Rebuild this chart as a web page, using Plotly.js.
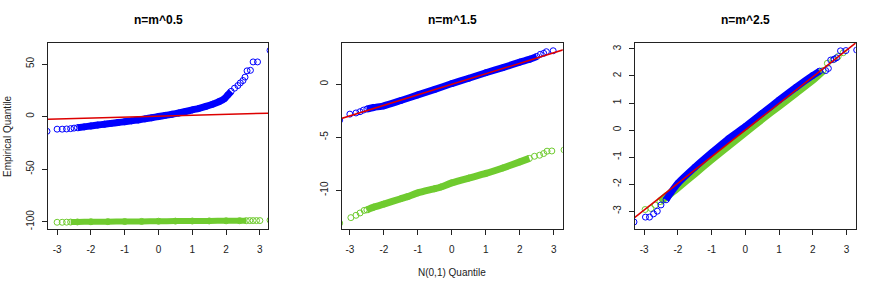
<!DOCTYPE html>
<html>
<head>
<meta charset="utf-8">
<script src="https://cdn.plot.ly/plotly-3.0.1.min.js"></script>
<style>html,body{margin:0;padding:0;background:#fff;}#chart{width:880px;height:285px;}</style>
</head>
<body>
<div id="chart"></div>
<script>
// ---- Data ----
const panelTitles = ["n=m^0.5", "n=m^1.5", "n=m^2.5"];
const xTicks = [-3, -2, -1, 0, 1, 2, 3];
const yTicks1 = [-100, -50, 0, 50];
const yTicks2 = [-10, -5, 0];
const yTicks3 = [-3, -2, -1, 0, 1, 2, 3];

// panel 1 : n = m^0.5
const blue1X = [-3.3, -3.0, -2.85, -2.72, -2.6, -2.5, -2.4, -2.2, -2.0, -1.8, -1.6, -1.4, -1.2, -1.0, -0.8, -0.6, -0.4, -0.2, 0, 0.2, 0.4, 0.6, 0.8, 1.0, 1.2, 1.4, 1.6, 1.8, 1.95, 2.05, 2.15, 2.25, 2.35, 2.42, 2.5, 2.56, 2.62, 2.72, 2.8, 2.93, 3.3];
const blue1Y = [-14, -12, -12, -11.8, -11.5, -11, -10.6, -9.8, -8.9, -8.1, -7.3, -6.5, -5.7, -4.9, -4.1, -3.2, -2.2, -1.1, 0, 1.1, 2.2, 3.4, 4.8, 6.3, 7.8, 9.6, 11.7, 14.3, 17, 20.5, 24, 27, 29.5, 32, 34.3, 37.5, 43.5, 44, 52, 52, 63];
const green1X = [-3.0, -2.85, -2.72, -2.6, -2.4, -2.0, -1.5, -1.0, -0.5, 0, 0.5, 1.0, 1.5, 2.0, 2.4, 2.6, 2.7, 2.8, 2.9, 3.0, 3.3];
const green1Y = [-100.6, -100.6, -100.5, -100.4, -100.3, -100.1, -100.0, -99.9, -99.8, -99.6, -99.5, -99.4, -99.3, -99.2, -99.1, -99.1, -99.0, -99.0, -99.0, -99.0, -98.6];
const red1X = [-3.5, 3.5];
const red1Y = [-2.85, 3.45];

// panel 2 : n = m^1.5
const blue2X = [-3.3, -3.0, -2.82, -2.7, -2.6, -2.5, -2.3, -2.0, -1.5, -1.0, -0.5, 0, 0.5, 1.0, 1.5, 2.0, 2.3, 2.5, 2.6, 2.7, 2.78, 2.98];
const blue2Y = [-3.4, -2.83, -2.72, -2.6, -2.45, -2.35, -2.2, -2.05, -1.55, -1.02, -0.5, 0.05, 0.55, 1.07, 1.55, 2.07, 2.35, 2.6, 2.8, 2.9, 3.05, 3.14];
const green2X = [-3.3, -2.97, -2.82, -2.7, -2.58, -2.5, -2.28, -2.0, -1.5, -1.3, -1.0, -0.5, -0.32, 0, 0.5, 1.0, 1.5, 2.0, 2.28, 2.43, 2.58, 2.7, 2.8, 2.94, 3.3];
const green2Y = [-13.1, -12.58, -12.36, -12.14, -11.9, -11.85, -11.57, -11.3, -10.8, -10.6, -10.25, -9.85, -9.69, -9.3, -8.85, -8.42, -7.9, -7.33, -7.0, -6.8, -6.7, -6.54, -6.32, -6.3, -6.2];
const red2X = [-3.5, 3.5];
const red2Y = [-3.49, 3.45];

// panel 3 : n = m^2.5
const blue3X = [-3.3, -2.96, -2.84, -2.72, -2.61, -2.5, -2.35, -2.2, -2.0, -1.5, -1.0, -0.5, 0, 0.5, 1.0, 1.5, 2.0, 2.2, 2.38, 2.46, 2.53, 2.63, 2.7, 2.82, 2.98, 3.3];
const blue3Y = [-3.4, -3.22, -3.22, -3.1, -3.0, -2.77, -2.58, -2.3, -1.97, -1.38, -0.84, -0.32, 0.13, 0.62, 1.11, 1.58, 2.02, 2.18, 2.2, 2.28, 2.59, 2.62, 2.67, 2.93, 2.94, 2.96];
const green3X = [-2.97, -2.8, -2.67, -2.53, -2.3, -2.0, -1.5, -1.0, -0.5, 0, 0.5, 1.0, 1.5, 2.0, 2.3, 2.43, 2.6, 2.75, 2.9];
const green3Y = [-2.94, -2.9, -2.78, -2.65, -2.42, -2.12, -1.6, -1.08, -0.58, -0.08, 0.42, 0.9, 1.38, 1.86, 2.2, 2.47, 2.6, 2.72, 2.86];
const red3X = [-3.5, 3.5];
const red3Y = [-3.45, 3.45];

// ---- Styling ----
const BLUE = "#0000FF", GREEN = "#6FCB2F", RED = "#DD0000", AX = "#222222";
const W = 880, H = 285;

function core(xs, ys, lo, hi) {
  const cx = [], cy = [];
  xs.forEach((v, i) => { if (v >= lo && v <= hi) { cx.push(v); cy.push(ys[i]); } });
  return {x: cx, y: cy};
}
function pts(xs, ys, color, ax) {
  return {x: xs, y: ys, type: "scatter", mode: "markers", xaxis: "x" + ax, yaxis: "y" + ax,
    marker: {symbol: "circle-open", size: 6, color: color, line: {width: 1, color: color}},
    hoverinfo: "skip", showlegend: false};
}
function band(xs, ys, lo, hi, color, width, ax) {
  const c = core(xs, ys, lo, hi);
  return {x: c.x, y: c.y, type: "scatter", mode: "lines", xaxis: "x" + ax, yaxis: "y" + ax,
    line: {color: color, width: width, shape: "spline", smoothing: 0.6}, hoverinfo: "skip", showlegend: false};
}
function redLine(xs, ys, ax) {
  return {x: xs, y: ys, type: "scatter", mode: "lines", xaxis: "x" + ax, yaxis: "y" + ax,
    line: {color: RED, width: 1.5}, hoverinfo: "skip", showlegend: false};
}

const traces = [
  pts(blue1X, blue1Y, BLUE, ""), band(blue1X, blue1Y, -2.45, 2.2, BLUE, 7, ""),
  pts(green1X, green1Y, GREEN, ""), band(green1X, green1Y, -2.65, 2.65, GREEN, 6, ""),
  redLine(red1X, red1Y, ""),
  pts(blue2X, blue2Y, BLUE, "2"), band(blue2X, blue2Y, -2.55, 2.55, BLUE, 7, "2"),
  pts(green2X, green2Y, GREEN, "2"), band(green2X, green2Y, -2.55, 2.3, GREEN, 7, "2"),
  redLine(red2X, red2Y, "2"),
  pts(green3X, green3Y, GREEN, "3"), band(green3X, green3Y, -2.55, 2.35, GREEN, 8, "3"),
  pts(blue3X, blue3Y, BLUE, "3"), band(blue3X, blue3Y, -2.4, 2.25, BLUE, 7, "3"),
  redLine(red3X, red3Y, "3")
];

const font = {family: "Liberation Sans, Arial, sans-serif", size: 10, color: "#222"};
function xax(domPx, range, anchor) {
  return {domain: [domPx[0] / W, domPx[1] / W], range: range, anchor: anchor,
    tickvals: xTicks, ticktext: xTicks.map(String), ticks: "outside", ticklen: 5, tickwidth: 1,
    tickcolor: AX, showline: true, linecolor: AX, linewidth: 1, mirror: true,
    showgrid: false, zeroline: false, tickfont: font, automargin: false, fixedrange: true,
    ticklabelstandoff: 6};
}
function yax(range, ticks, anchor) {
  return {domain: [1 - 229 / H, 1 - 43 / H], range: range, anchor: anchor,
    tickvals: ticks, ticktext: ticks.map(String), ticks: "outside", ticklen: 5, tickwidth: 1,
    tickcolor: AX, showline: true, linecolor: AX, linewidth: 1, mirror: true, tickangle: -90,
    showgrid: false, zeroline: false, tickfont: font, automargin: false, fixedrange: true,
    ticklabelstandoff: 4};
}

const titleFont = {family: "Liberation Sans, Arial, sans-serif", size: 12, color: "#000", weight: "bold"};
const panelsPx = [[48, 268], [341.7, 562.7], [635, 855.7]];
const annotations = panelTitles.map((t, i) => ({
  text: "<b>" + t + "</b>", xref: "paper", yref: "paper",
  x: (panelsPx[i][0] + panelsPx[i][1]) / 2 / W, y: 1 - 20 / H,
  xanchor: "center", yanchor: "middle", showarrow: false, font: titleFont
}));
annotations.push({text: "Empirical Quantile", xref: "paper", yref: "paper", x: 8 / W, y: 1 - 136 / H,
  xanchor: "center", yanchor: "middle", textangle: -90, showarrow: false, font: font});
annotations.push({text: "N(0,1) Quantile", xref: "paper", yref: "paper", x: 452 / W, y: 1 - 272 / H,
  xanchor: "center", yanchor: "middle", showarrow: false, font: font});

const layout = {
  width: W, height: H, margin: {l: 0, r: 0, t: 0, b: 0},
  paper_bgcolor: "#fff", plot_bgcolor: "#fff", showlegend: false,
  xaxis: xax(panelsPx[0], [-3.27, 3.24], "y"),
  yaxis: yax([-107, 70], yTicks1, "x"),
  xaxis2: xax(panelsPx[1], [-3.24, 3.26], "y2"),
  yaxis2: yax([-13.65, 3.87], yTicks2, "x2"),
  xaxis3: xax(panelsPx[2], [-3.27, 3.27], "y3"),
  yaxis3: yax([-3.66, 3.22], yTicks3, "x3"),
  annotations: annotations
};

Plotly.newPlot("chart", traces, layout, {displayModeBar: false, staticPlot: true});
</script>
</body>
</html>
